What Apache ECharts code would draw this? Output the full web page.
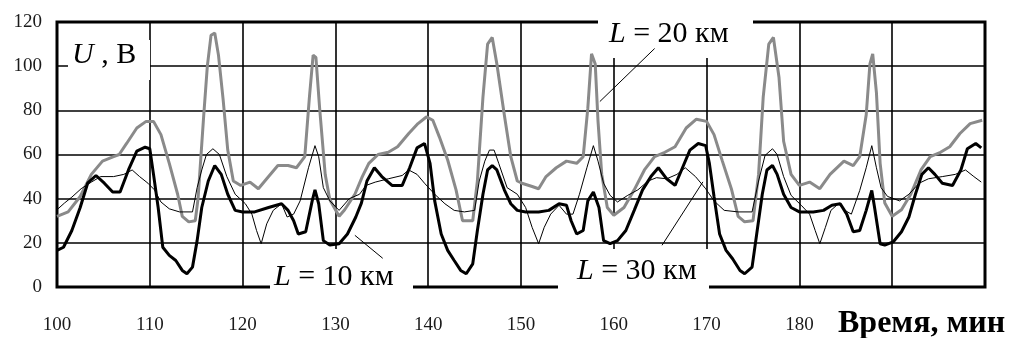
<!DOCTYPE html>
<html>
<head>
<meta charset="utf-8">
<script src="https://cdn.jsdelivr.net/npm/echarts@6/dist/echarts.min.js"></script>
<style>
html,body{margin:0;padding:0;background:#fff;}
#chart{width:1013px;height:338px;}
</style>
</head>
<body>
<div id="chart"></div>
<script>
// ---- data (time in min, voltage in V) ----
const xTicks = [100, 110, 120, 130, 140, 150, 160, 170, 180];
const yTicks = [0, 20, 40, 60, 80, 100, 120];

// L = 20 km (grey thick)
const l20X = [100,101.2,102.5,103.7,104.9,106.1,106.7,107.5,108.6,109.6,110.4,111.2,112.1,113,113.5,114.2,114.9,115.2,115.8,116.2,116.6,117,117.4,117.9,118.4,119,119.8,120.8,121.7,122.8,123.8,124.9,125.8,126.7,127.2,127.6,127.9,128.3,128.9,129.4,130.4,131,132.1,132.9,133.6,134.6,135.7,136.7,137.9,138.9,139.8,140.5,141.2,142.1,143,143.7,144.8,145.3,145.9,146.4,146.9,147.4,148.2,148.9,149.6,150.1,151.2,151.9,152.7,153.8,154.9,156,156.7,157.2,157.6,158,158.3,158.7,159.3,160,161.1,162.2,163.3,164.4,165.5,166.6,167.8,168.9,170,170.8,171.7,172.7,173.4,174.1,175,175.6,176.1,176.7,177.2,177.8,178.3,179.1,180,181.1,182.2,183.3,184.8,185.8,186.5,187.2,187.6,187.9,188.3,188.7,189.2,190,191,192,193.1,194.1,195.2,196.2,197.3,198.4,199.7];
const l20Y = [32,34,41,51,57,59,60,65,72,75,75,69,56,42,32,29.5,30,40,77,100,114,115,105,85,62,48,46,47.5,44.5,50,55,55,54,59,86,105,104,81,51,39.5,32,35,42,50,56,60,61,63.5,69.5,74,77,75.5,68,57.5,44,30,30,48,86,110,113,101,78,59,48,47,45.5,44.5,50,54,57,56,59,81,105.6,101,75,51,36,32.5,36,44,53,59,61,63.5,72,76,75,69,57,44,32,29.5,30,51,86,110,113,95,66,51,46,47.5,44.5,51,57,55,59,78,101,105.6,88,56,38,32,35,42,53,59,61,63.5,69.5,74,75.5];

// L = 10 km (black thick)
const l10X = [100,100.7,101.6,102.5,103.3,104.2,105.1,106,106.8,107.7,108.6,109.5,110,110.4,110.9,111.4,112.1,112.8,113.5,114,114.6,115.1,115.6,116.3,117,117.7,118.4,119.2,120,121.3,122.8,124.2,124.9,125.5,126,126.8,127.5,127.8,128.2,128.7,129.4,130.4,131.3,132.2,132.8,133.4,134.2,135,136.1,137.2,138,138.8,139.6,140.2,140.7,141.4,142.1,142.8,143.5,144.1,144.8,145.3,145.9,146.4,146.9,147.4,148.2,148.9,149.6,150.5,151.9,153,154.1,154.9,155.4,156,156.7,157.2,157.8,158.4,158.9,159.6,160.4,161.3,162.2,163.1,164,164.8,165.7,166.6,167.3,168.2,169.1,169.9,170.3,170.8,171.4,172.1,172.8,173.6,174.1,174.9,175.4,176,176.5,177.1,177.6,178.3,179.1,180,181.5,182.6,183.5,184.4,185.1,185.8,186.5,187.2,187.8,188.1,188.7,189.2,190.1,191,191.8,192.5,193.2,193.9,194.6,195.4,196.5,197.4,198.1,199,199.6];
const l10Y = [16.6,18,25.6,36,47,50.5,47,43,43,53,61.5,63.3,62.6,51,36,18,14.3,12,7.5,6,9,21,36,48,55,51,42,34.7,34,34,36,37.7,34.7,30,24,25,39,44,37.7,21,19,19.6,24,31.7,38,48,54,50,46,46,54,63,65,56,39,24,16.6,12,7.5,6,10.5,25.6,42,53,55,53,44,37.7,34.7,34,34,34.7,37.7,37,30,24,25.6,39,43,36,21,19.6,21,25.6,34.7,44,50,54,49,46,53,62,65,64,56,41,24,16.6,12.8,7.5,6,9,24,42,53,55,51,42,36,34,34,34.7,37,37.7,33,25,25.6,34.7,43.7,36,19.6,19,20.4,25,31.7,42,51,54,51,47,46,53,62.6,65,63];

// L = 30 km (black thin)
const l30X = [100,100.8,101.6,102.6,103.7,104.7,106.1,107.2,108.1,108.9,109.8,110.5,111.2,112.1,113.2,114.6,115.1,115.6,116.1,116.8,117.5,118.3,119.2,120.3,121,121.5,122,122.6,123.3,124.2,124.8,125.5,126.2,127.1,127.8,128.2,128.7,129.4,130.4,131.5,132.6,133.3,134.3,135.7,137.2,137.9,138.8,139.6,140.7,141.8,142.8,143.9,145,145.5,146.1,146.6,147.1,147.6,148.5,149.6,150.5,151.2,151.9,152.5,153.2,154.1,154.9,155.6,156.3,157.1,157.8,158.3,158.9,159.6,160.4,161.5,162.6,163.7,164.6,165.7,166.8,167.7,168.8,169.9,170.8,171.9,173.4,174.9,175.6,176.3,177.1,177.6,178.3,179.1,180.2,181.1,181.7,182.2,182.8,183.4,184.2,184.9,185.6,186.5,187.2,187.8,188.3,188.8,189.5,190.8,191.8,192.9,193.9,195.4,196.8,197.9,198.8,199.6];
const l30Y = [35,38,40.7,44.5,47.5,50,50,51,53,50,47,44,38.5,35.4,34,34,45,53,60,62.6,60,50,42,37.7,33,25.6,19.6,28.6,34.7,37.7,31.7,33,39,54,64,59,45,39,34.7,40,42,46,47.5,49,50.5,53,51,47,42,37.7,34.7,34,34.7,48,57,62,62,56,45,42,36,27,19.6,27,33,37,33,33,42,54,64,57,47,41.5,38.5,41.5,44,48,49.5,49,51,54,50,44.5,39,34.7,34,34,48,59.6,62.6,60,50,41.5,37,33,25.6,19.6,27,34.7,37.7,34.7,33,43.7,54,64,54,45,41,39,42,47,49,50,51,53,50,47.5];

// annotation leader lines (data coordinates: [time, U])
const lead20 = [[158.5, 84], [164.4, 108]];
const lead10 = [[132.1, 23.4], [135.1, 13]];
const lead30 = [[165.2, 18.9], [169.6, 47.6]];

const pairs = (xs, ys) => xs.map((x, i) => [x, ys[i]]);

const chart = echarts.init(document.getElementById('chart'), null, {renderer: 'canvas'});
const serif = '"Liberation Serif", "Times New Roman", serif';
const labelColor = '#1a1a1a';

function lead(p) { return [{coord: p[0]}, {coord: p[1]}]; }
function lbl(rest, size) {
  return {
    text: '{i|' + rest[0] + '}{r|' + rest[1] + '}',
    rich: {
      i: {fontFamily: serif, fontStyle: 'italic', fontSize: size, fill: '#000'},
      r: {fontFamily: serif, fontSize: size, fill: '#000'}
    }
  };
}

const option = {
  animation: false,
  backgroundColor: '#fff',
  grid: {
    left: 57, right: 28, top: 22, bottom: 51,
    containLabel: false,
    show: true, borderWidth: 3, borderColor: '#000', backgroundColor: 'transparent'
  },
  xAxis: {
    type: 'value', min: 100, max: 200, interval: 10,
    axisLine: {show: false}, axisTick: {show: false},
    splitLine: {show: true, lineStyle: {color: '#000', width: 1.6}},
    axisLabel: {
      margin: 29, color: labelColor, fontFamily: serif, fontSize: 19,
      formatter: v => xTicks.includes(v) ? String(v) : ''
    }
  },
  yAxis: {
    type: 'value', min: 0, max: 120, interval: 20,
    axisLine: {show: false}, axisTick: {show: false},
    splitLine: {show: true, lineStyle: {color: '#000', width: 1.6}},
    axisLabel: {
      margin: 15, color: labelColor, fontFamily: serif, fontSize: 19,
      formatter: v => yTicks.includes(v) ? String(v) : ''
    }
  },
  series: [
    {
      name: 'L = 20 км', type: 'line', data: pairs(l20X, l20Y), z: 3,
      showSymbol: false, symbol: 'none', smooth: false,
      lineStyle: {color: '#8a8a8a', width: 3}
    },
    {
      name: 'L = 30 км', type: 'line', data: pairs(l30X, l30Y), z: 4,
      showSymbol: false, symbol: 'none',
      lineStyle: {color: '#000', width: 1},
      markLine: {
        silent: true, symbol: ['none', 'none'], label: {show: false},
        lineStyle: {color: '#000', width: 1, type: 'solid'},
        data: [lead(lead20), lead(lead10), lead(lead30)]
      }
    },
    {
      name: 'L = 10 км', type: 'line', data: pairs(l10X, l10Y), z: 5,
      showSymbol: false, symbol: 'none',
      lineStyle: {color: '#000', width: 3}
    }
  ],
  graphic: [
    // white label boxes that interrupt the frame
    {type: 'rect', z: 1, shape: {x: 68, y: 40, width: 82, height: 40}, style: {fill: '#fff'}},
    {type: 'rect', z: 1, shape: {x: 598, y: 0, width: 155, height: 58}, style: {fill: '#fff'}},
    {type: 'rect', z: 1, shape: {x: 270, y: 249, width: 143, height: 50}, style: {fill: '#fff'}},
    {type: 'rect', z: 1, shape: {x: 558, y: 249, width: 151, height: 50}, style: {fill: '#fff'}},
    {type: 'rect', z: 1, shape: {x: 612, y: 214, width: 8, height: 28}, style: {fill: '#fff'}},
    // texts
    {type: 'text', z: 10, left: 72, top: 40, style: lbl(['U', ' , В'], 30)},
    {type: 'text', z: 10, left: 609, top: 19, style: lbl(['L', ' = 20 км'], 30)},
    {type: 'text', z: 10, left: 274, top: 262, style: lbl(['L', ' = 10 км'], 30)},
    {type: 'text', z: 10, left: 577, top: 256, style: lbl(['L', ' = 30 км'], 30)},
    {type: 'text', z: 10, left: 838, top: 308, style: {
      text: 'Время, мин', fontFamily: serif, fontWeight: 'bold', fontSize: 32, fill: '#000'
    }}
  ]
};
chart.setOption(option);
</script>
</body>
</html>
